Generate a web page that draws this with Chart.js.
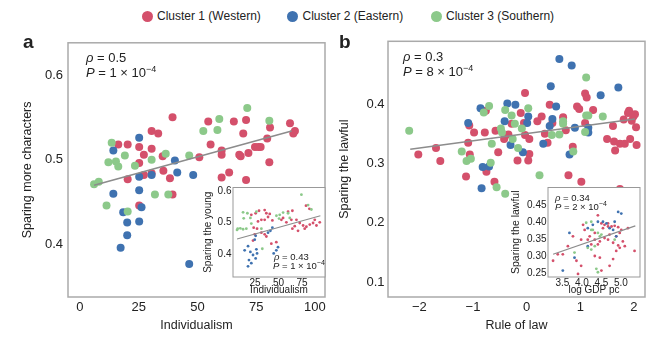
<!DOCTYPE html>
<html>
<head>
<meta charset="utf-8">
<script src="https://cdn.jsdelivr.net/npm/chart.js@4.4.1/dist/chart.umd.min.js"></script>
<style>
  body { margin: 0; width: 662px; height: 339px; overflow: hidden; position: relative; background: #fff;
         font-family: "Liberation Sans", Arial, sans-serif; color: #222; }
  canvas { position: absolute; }
  .txt { position: absolute; white-space: nowrap; }
  .legend { font-size: 12px; line-height: 14px; top: 9px; }
  .dot { position: absolute; width: 11px; height: 11px; border-radius: 50%; top: 10.5px; }
  .letter { font-size: 19px; line-height: 19px; font-weight: bold; }
  .note { font-size: 13px; line-height: 15px; }
  .small { font-size: 9.5px; line-height: 11px; }
  .note sup { font-size: 9px; vertical-align: 0; position: relative; top: -5px; }
  .small sup { font-size: 7px; vertical-align: 0; position: relative; top: -4px; }
</style>
</head>
<body>
<div class="dot" style="left:141.5px;background:#d4506b"></div>
<div class="txt legend" style="left:157px">Cluster 1 (Western)</div>
<div class="dot" style="left:287px;background:#3f72b0"></div>
<div class="txt legend" style="left:302.5px">Cluster 2 (Eastern)</div>
<div class="dot" style="left:430.5px;background:#8cc98a"></div>
<div class="txt legend" style="left:446px">Cluster 3 (Southern)</div>

<canvas id="mainA" width="335" height="309" style="left:0;top:30px"></canvas>
<canvas id="mainB" width="327" height="309" style="left:335px;top:30px"></canvas>
<canvas id="insetA" width="132" height="120" style="left:198px;top:180px"></canvas>
<canvas id="insetB" width="140" height="120" style="left:505px;top:180px"></canvas>

<div class="txt letter" style="left:23px;top:32px">a</div>
<div class="txt letter" style="left:339px;top:32px">b</div>

<div class="txt note" style="left:86px;top:50px"><i>ρ</i> = 0.5</div>
<div class="txt note" style="left:86px;top:64.5px"><i>P</i> = 1 × 10<sup>−4</sup></div>
<div class="txt note" style="left:403px;top:49px"><i>ρ</i> = 0.3</div>
<div class="txt note" style="left:403px;top:63.5px"><i>P</i> = 8 × 10<sup>−4</sup></div>

<div class="txt small" style="left:274px;top:250.5px"><i>ρ</i> = 0.43</div>
<div class="txt small" style="left:273px;top:260px"><i>P</i> = 1 × 10<sup>−4</sup></div>
<div class="txt small" style="left:555px;top:191.5px"><i>ρ</i> = 0.34</div>
<div class="txt small" style="left:555px;top:201px"><i>P</i> = 2 × 10<sup>−4</sup></div>

<script>
// colours of the three clusters
const RED = '#d4506b', BLUE = '#3f72b0', GREEN = '#8cc98a', FIT = '#8c8c8c';

// panel a: individualism vs sparing more characters
const aWestern = [[39.4,0.550],[30.5,0.534],[33.3,0.531],[16.3,0.518],[20.3,0.518],[25.2,0.515],[30.5,0.513],[27.2,0.506],
  [35.2,0.504],[25.2,0.496],[35.5,0.487],[30.5,0.484],[27.2,0.482],[20.3,0.477],[38.3,0.478],[39.4,0.459],[25.2,0.446],
  [50.8,0.503],[54.6,0.545],[55.6,0.518],[60.3,0.511],[60.3,0.506],[60.3,0.479],[63.5,0.485],[65.5,0.545],[67.8,0.506],
  [68.4,0.504],[69.5,0.531],[70.7,0.547],[71.7,0.508],[70.7,0.476],[74.5,0.515],[75.9,0.515],[76.9,0.515],[79.7,0.525],
  [80.9,0.538],[80.6,0.497],[89.4,0.543],[91.5,0.534],[90.8,0.531]];
const aEastern = [[25.2,0.526],[14.2,0.511],[40.4,0.499],[41.4,0.485],[48.2,0.482],[30.5,0.482],[25.2,0.480],[25.2,0.464],
  [14.2,0.460],[26.2,0.444],[18.4,0.438],[20.1,0.426],[25.2,0.427],[20.1,0.411],[17.3,0.396],[46.5,0.377]];
const aSouthern = [[6.0,0.471],[8.0,0.474],[13.5,0.520],[12.1,0.497],[15.3,0.498],[16.3,0.492],[19.1,0.505],[23.4,0.493],
  [30.5,0.500],[36.5,0.507],[46.5,0.505],[11.3,0.446],[20.3,0.439],[31.9,0.459],[37.6,0.459],[52.5,0.534],[59.3,0.548],
  [58.5,0.535],[71.2,0.561],[80.6,0.546]];
const aFit = [[6.0,0.470],[90.1,0.534]];
const aXTicks = [0, 25, 50, 75, 100];
const aYTicks = [0.4, 0.5, 0.6];

// panel b: rule of law vs sparing the lawful
const bWestern = [[-2.02,0.315],[-1.69,0.326],[-1.61,0.304],[-1.13,0.278],[-1.09,0.335],[-1.07,0.364],[-1.06,0.315],
  [-0.98,0.352],[-0.78,0.352],[-0.76,0.389],[-0.75,0.286],[-0.60,0.269],[-0.58,0.355],[-0.53,0.319],[-0.42,0.341],
  [-0.34,0.349],[-0.28,0.367],[-0.17,0.305],[-0.11,0.385],[-0.05,0.368],[-0.03,0.419],[-0.03,0.348],[0.05,0.341],
  [0.05,0.316],[0.03,0.305],[0.20,0.371],[0.28,0.379],[0.34,0.350],[0.39,0.335],[0.43,0.399],[0.48,0.368],[0.68,0.378],
  [0.73,0.356],[0.78,0.280],[0.86,0.328],[0.94,0.396],[0.98,0.392],[1.02,0.269],[1.09,0.418],[1.12,0.411],[1.09,0.368],
  [1.24,0.390],[1.50,0.341],[1.61,0.363],[1.63,0.337],[1.65,0.322],[1.74,0.333],[1.74,0.257],[1.83,0.333],[1.89,0.385],
  [1.91,0.389],[1.93,0.341],[1.96,0.372],[1.99,0.379],[2.02,0.383],[2.04,0.361],[2.05,0.331],[1.81,0.374]];
const bEastern = [[0.61,0.476],[0.84,0.465],[0.45,0.430],[1.71,0.428],[1.38,0.415],[-0.86,0.393],[-0.36,0.401],
  [-0.21,0.399],[0.55,0.396],[0.03,0.379],[0.48,0.375],[-0.41,0.371],[0.01,0.368],[-1.09,0.368],[0.43,0.363],
  [0.90,0.360],[1.15,0.360],[1.15,0.352],[-0.30,0.331],[-0.07,0.319],[0.31,0.333],[0.80,0.315],[-0.82,0.294],
  [-0.70,0.295],[-0.84,0.258]];
const bSouthern = [[-2.19,0.355],[-1.21,0.320],[-1.12,0.304],[-1.04,0.308],[-0.80,0.386],[-0.70,0.397],[-0.67,0.301],
  [-0.65,0.333],[-0.56,0.260],[-0.48,0.359],[-0.46,0.352],[-0.40,0.249],[-0.40,0.390],[-0.28,0.381],[-0.26,0.341],
  [-0.22,0.367],[-0.16,0.326],[-0.09,0.359],[0.03,0.393],[0.24,0.280],[0.47,0.348],[0.61,0.349],[0.68,0.371],
  [0.68,0.367],[0.87,0.320],[1.11,0.445],[1.11,0.381],[1.15,0.381],[1.09,0.353],[1.42,0.379]];
const bFit = [[-2.17,0.324],[2.02,0.375]];
const bXTicks = [-2, -1, 0, 1, 2];
const bYTicks = [0.1, 0.2, 0.3, 0.4];

// inset a: individualism vs sparing the young
const iaWestern = [[29.3,0.537],[35.3,0.539],[37.1,0.529],[40.7,0.527],[28.2,0.503],[31.8,0.508],[35.3,0.508],[38.9,0.517],
  [43.5,0.506],[23.6,0.483],[27.2,0.480],[31.8,0.467],[24.7,0.462],[35.3,0.462],[37.1,0.455],[53.1,0.508],[58.4,0.500],
  [63.7,0.508],[69.1,0.508],[67.3,0.488],[72.6,0.498],[76.2,0.490],[77.9,0.480],[79.7,0.486],[83.3,0.493],[86.8,0.498],
  [88.6,0.508],[90.4,0.490],[93.9,0.500],[70.8,0.473],[64.8,0.480],[22.9,0.442],[42.4,0.432],[47.7,0.437],[54.9,0.514],
  [21.1,0.524],[25.7,0.529],[60.2,0.534],[64.8,0.537],[79.3,0.553],[82.9,0.543]];
const iaEastern = [[43.5,0.483],[41.4,0.473],[38.9,0.467],[25.7,0.457],[24.7,0.445],[17.6,0.424],[14.0,0.411],[20.1,0.406],
  [22.9,0.396],[27.2,0.401],[26.5,0.414],[18.6,0.380],[17.6,0.360],[21.1,0.370],[25.7,0.385],[49.5,0.421],[47.7,0.411],
  [44.9,0.401]];
const iaSouthern = [[12.3,0.532],[16.9,0.529],[13.0,0.513],[20.1,0.514],[6.6,0.480],[9.4,0.481],[12.3,0.478],[15.8,0.480],
  [21.1,0.496],[26.5,0.534],[47.8,0.521],[51.3,0.524],[50.6,0.512],[54.9,0.531],[60.2,0.529],[62.0,0.514],[81.5,0.555],
  [85.0,0.541],[74.4,0.588],[32.8,0.416],[5.9,0.476],[31.8,0.480]];
const iaFit = [[5.9,0.447],[94.6,0.521]];
const iaXTicks = [25, 50, 75];
const iaYTicks = [0.4, 0.5, 0.6];

// inset b: log GDP per capita vs sparing the lawful
const ibWestern = [[4.41,0.421],[4.50,0.397],[4.58,0.393],[4.67,0.397],[4.76,0.388],[4.84,0.390],[4.93,0.386],[5.01,0.378],
  [5.18,0.383],[4.97,0.369],[4.88,0.359],[4.71,0.364],[4.67,0.349],[4.58,0.354],[4.46,0.344],[4.33,0.349],[4.20,0.359],
  [4.03,0.393],[4.07,0.378],[3.98,0.349],[4.24,0.335],[4.41,0.335],[4.80,0.340],[4.93,0.332],[4.97,0.325],[5.10,0.330],
  [5.35,0.316],[3.26,0.287],[3.38,0.306],[3.51,0.306],[3.86,0.287],[3.98,0.272],[4.33,0.301],[4.46,0.296],[4.71,0.272],
  [4.80,0.292],[4.88,0.316],[4.67,0.388],[4.54,0.383],[4.33,0.369],[3.90,0.248],[4.50,0.258],[4.15,0.349],[5.05,0.344],
  [3.77,0.359],[3.64,0.330]];
const ibEastern = [[4.93,0.431],[5.01,0.426],[4.41,0.402],[4.63,0.397],[4.71,0.383],[4.80,0.378],[4.84,0.402],[3.68,0.369],
  [4.15,0.383],[3.81,0.296],[4.15,0.330],[3.51,0.258],[4.88,0.359],[4.54,0.402],[4.28,0.393]];
const ibSouthern = [[4.11,0.399],[4.24,0.402],[4.28,0.378],[4.41,0.369],[4.46,0.359],[4.50,0.364],[4.15,0.325],[4.24,0.320],
  [4.37,0.263],[4.41,0.253],[4.24,0.378],[4.84,0.349],[3.81,0.311],[4.33,0.330]];
const ibFit = [[3.26,0.306],[5.37,0.390]];
const ibXTicks = [3.5, 4.0, 4.5, 5.0];
const ibYTicks = [0.25, 0.30, 0.35, 0.40, 0.45];

Chart.defaults.font.family = '"Liberation Sans", Arial, sans-serif';
Chart.defaults.color = '#222';

const toPts = arr => arr.map(p => ({ x: p[0], y: p[1] }));

// grey box around the plot area, optional white fill for the insets
const framePlugin = {
  id: 'frame',
  beforeDatasetsDraw(chart, args, opts) {
    const { ctx, chartArea: a } = chart;
    ctx.save();
    if (opts.fill) {
      ctx.fillStyle = '#fff';
      ctx.fillRect(a.left, a.top, a.right - a.left, a.bottom - a.top);
    }
    ctx.strokeStyle = opts.color;
    ctx.lineWidth = opts.width;
    ctx.strokeRect(a.left, a.top, a.right - a.left, a.bottom - a.top);
    ctx.restore();
  }
};

function axis(min, max, ticks, fmt, title, size, fontSize, titleSize, tickPad, titlePad) {
  return {
    type: 'linear', min: min, max: max,
    grid: { display: false, drawTicks: false },
    border: { display: false },
    afterBuildTicks: s => { s.ticks = ticks.map(v => ({ value: v })); },
    afterFit: s => { if (s.isHorizontal()) s.height = size; else s.width = size; },
    ticks: { callback: fmt, padding: tickPad, autoSkip: false, maxRotation: 0, font: { size: fontSize } },
    title: { display: true, text: title, padding: titlePad, font: { size: titleSize } }
  };
}

function makePanel(id, sets, fit, x, y, cfg) {
  const datasets = [{
    data: toPts(fit), showLine: true, pointRadius: 0, borderColor: FIT, borderWidth: cfg.lineWidth
  }];
  [[sets[2], GREEN], [sets[1], BLUE], [sets[0], RED]].forEach(([d, c]) => {
    datasets.push({ data: toPts(d), pointRadius: cfg.r, backgroundColor: c, borderWidth: 0 });
  });
  new Chart(document.getElementById(id), {
    type: 'scatter',
    data: { datasets: datasets },
    options: {
      responsive: false, animation: false, events: [],
      layout: { padding: cfg.padding },
      scales: { x: x, y: y },
      plugins: {
        legend: { display: false }, tooltip: { enabled: false },
        frame: { color: cfg.frameColor, width: cfg.frameWidth, fill: cfg.fill }
      }
    },
    plugins: [framePlugin]
  });
}

const one = v => v.toFixed(1);
const two = v => v.toFixed(2);
const signed = v => (v < 0 ? '\u2212' + Math.abs(v) : String(v));

makePanel('mainA', [aWestern, aEastern, aSouthern], aFit,
  axis(-5.1, 104.3, aXTicks, v => String(v), 'Individualism', 42, 13, 12.5, 3, { top: 0, bottom: 5.5 }),
  axis(0.338, 0.638, aYTicks, one, 'Sparing more characters', 68, 13, 12.5, 5, { top: 20.5, bottom: 0 }),
  { r: 4, lineWidth: 1.6, padding: { left: 0, right: 10, top: 6, bottom: 0 }, frameColor: '#aaa', frameWidth: 1.5, fill: false });

makePanel('mainB', [bWestern, bEastern, bSouthern], bFit,
  axis(-2.585, 2.207, bXTicks, signed, 'Rule of law', 42, 13, 12.5, 3, { top: 0, bottom: 5.5 }),
  axis(0.0747, 0.506, bYTicks, one, 'Sparing the lawful', 53, 13, 12.5, 3.5, { top: 2.5, bottom: 0 }),
  { r: 4, lineWidth: 1.6, padding: { left: 0, right: 17, top: 6, bottom: 0 }, frameColor: '#aaa', frameWidth: 1.5, fill: false });

makePanel('insetA', [iaWestern, iaEastern, iaSouthern], iaFit,
  axis(1.6, 99.5, iaXTicks, v => String(v), 'Individualism', 23, 10, 10, 0, { top: 0, bottom: 4 }),
  axis(0.326, 0.611, iaYTicks, one, 'Sparing the young', 35, 10, 10, 1.5, { top: 4.5, bottom: 0 }),
  { r: 1.4, lineWidth: 1.2, padding: { left: 0, right: 5, top: 4, bottom: 0 }, frameColor: '#999', frameWidth: 1, fill: true });

makePanel('insetB', [ibWestern, ibEastern, ibSouthern], ibFit,
  axis(3.13, 5.49, ibXTicks, one, 'log GDP pc', 23, 10, 10, 0, { top: 0, bottom: 4 }),
  axis(0.239, 0.503, ibYTicks, two, 'Sparing the lawful', 43, 10, 10.5, 1.5, { top: 4.5, bottom: 0 }),
  { r: 1.4, lineWidth: 1.2, padding: { left: 0, right: 5, top: 5, bottom: 0 }, frameColor: '#999', frameWidth: 1, fill: true });
</script>
</body>
</html>
